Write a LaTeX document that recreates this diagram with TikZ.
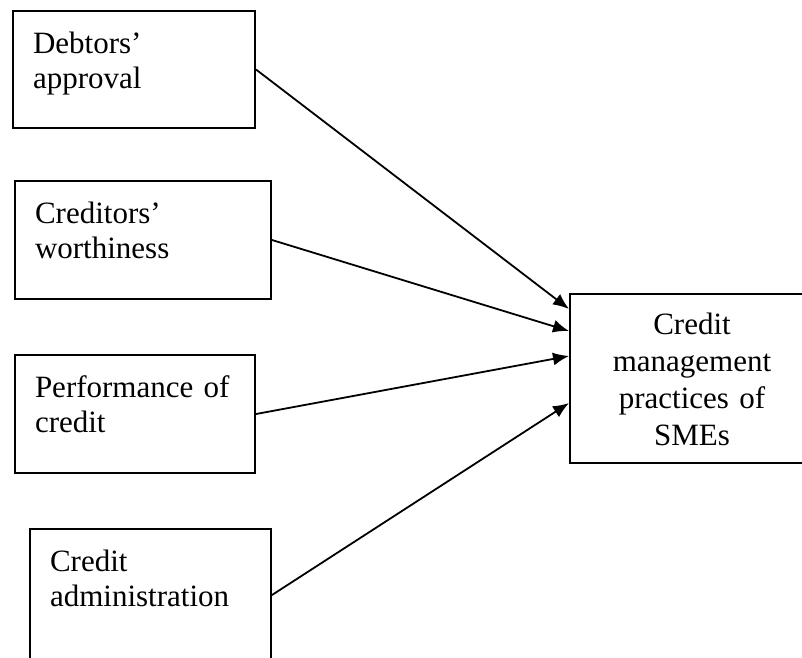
\documentclass[tikz,border=0pt]{standalone}
\usepackage{fontspec}
\setmainfont{Liberation Serif}
\usetikzlibrary{arrows.meta}

\tikzset{
  factor/.style 2 args={draw, line width=2pt, anchor=north west, align=left,
    font=\fontsize{31}{35}\selectfont, inner xsep=20pt, inner ysep=0pt,
    text height=42pt, text width=#1, text depth=#2},
  outcome/.style={draw, line width=2pt, anchor=north west, align=center,
    font=\fontsize{31}{37}\selectfont, inner xsep=20pt, inner ysep=0pt,
    text height=40pt, text width=204pt, text depth=129pt},
  conn/.style={-{Latex[length=16pt,width=13pt]}, line width=1.8pt},
}

\begin{document}
\begin{tikzpicture}[x=1pt, y=-1pt]

\clip (0,0) rectangle (802,657);

% independent variables
\node[factor={202pt}{75pt}] (debt) at (12,10) {Debtors’\\approval};
\node[factor={216pt}{76pt}] (cred) at (14,180) {Creditors’\\worthiness};
\node[factor={200pt}{76pt}] (perf) at (14,354) {Performance of\\credit};
\node[factor={201pt}{90pt}] (admin) at (29,528) {Credit\\administration};

% dependent variable
\node[outcome] (smes) at (569,293) {Credit\\management\\practices of\\SMEs};

\foreach \src/\dy in {debt/69.5, cred/47.5, perf/22.5, admin/-24.5}
  \draw[conn] (\src.east) -- ([yshift=\dy pt]smes.west);

\end{tikzpicture}
\end{document}
